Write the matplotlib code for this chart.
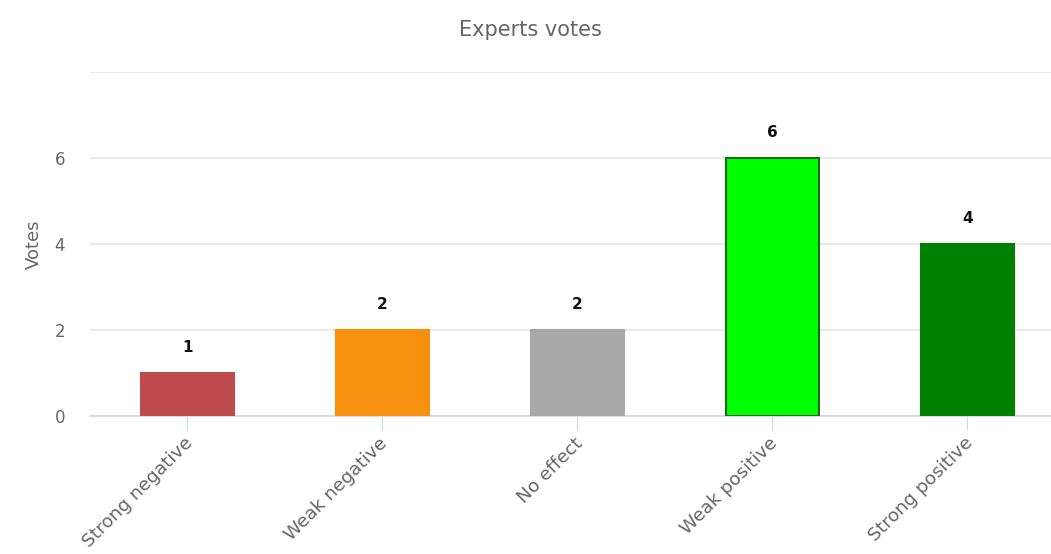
import matplotlib
matplotlib.use('Agg')
import matplotlib.pyplot as plt
from matplotlib.transforms import ScaledTranslation

# Chart data
categories = ['Strong negative', 'Weak negative', 'No effect', 'Weak positive', 'Strong positive']
votes = [1, 2, 2, 6, 4]
bar_colors = ['#BE4B4B', '#F7900F', '#A8A8A8', '#00FF00', '#008000']
edge_colors = ['#BE4B4B', '#F7900F', '#A8A8A8', '#1A6A1A', '#008000']
y_ticks = [0, 2, 4, 6, 8]
y_tick_labels = ['0', '2', '4', '6', '']

fig = plt.figure(figsize=(10.51, 5.54), dpi=100)
# plot area runs past the right edge, as in the screenshot
ax = fig.add_axes([0.0856, 0.249, 0.9277, 0.621])

x = range(len(categories))
ax.bar(x, votes, width=0.48, color=bar_colors, edgecolor=edge_colors, linewidth=1.5, zorder=3)

# value labels above bars
for i, v in enumerate(votes):
    ax.annotate(str(v), (i, v), xytext=(0, 13), textcoords='offset points',
                ha='center', va='bottom', fontsize=11, fontweight='bold', color='#111111')

ax.set_xlim(-0.5, len(categories) - 0.5)
ax.set_ylim(0, 8)
ax.set_yticks(y_ticks)
ax.set_yticklabels(y_tick_labels)
ax.grid(axis='y', color='#E6E6E6', linewidth=1.2, zorder=0)
ax.set_axisbelow(True)

for s in ['top', 'right', 'left']:
    ax.spines[s].set_visible(False)
ax.spines['bottom'].set_color('#CCD6EB')
ax.spines['bottom'].set_linewidth(1.2)

ax.set_xticks(list(x))
ax.set_xticklabels(categories, rotation=45, ha='right', rotation_mode='anchor',
                   fontsize=13.3, color='#666666')
ax.tick_params(axis='x', length=10, color='#CCD6EB', pad=3)
ax.tick_params(axis='y', length=0, labelsize=12, labelcolor='#666666', pad=18)

# nudge rotated labels so their top end sits at the tick
shift = ScaledTranslation(-4 / 100, 0, fig.dpi_scale_trans)
for lab in ax.get_xticklabels():
    lab.set_transform(lab.get_transform() + shift)

ax.set_ylabel('Votes', fontsize=13, color='#666666', labelpad=8)
fig.text(0.505, 0.945, 'Experts votes', ha='center', va='center', fontsize=15, color='#666666')

fig.savefig('out.png', dpi=100)
